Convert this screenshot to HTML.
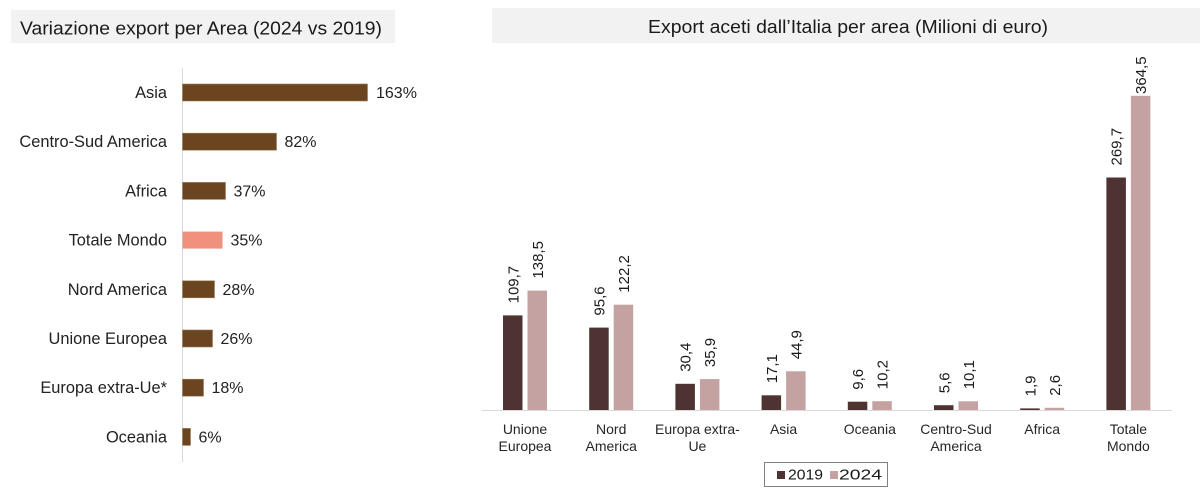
<!DOCTYPE html>
<html>
<head>
<meta charset="utf-8">
<style>
  html,body{margin:0;padding:0;background:#fff;}
  svg{display:block;}
  text{font-family:"Liberation Sans", Arial, sans-serif;}
</style>
</head>
<body>
<svg width="1200" height="491" viewBox="0 0 1200 491" xmlns="http://www.w3.org/2000/svg">
  <rect x="0" y="0" width="1200" height="491" fill="#ffffff"/>

  <!-- LEFT CHART -->
  <rect x="11" y="10" width="384" height="33" fill="#F2F2F2"/>
  <text x="20" y="34.5" font-size="18" fill="#1a1a1a" textLength="362" lengthAdjust="spacingAndGlyphs">Variazione export per Area (2024 vs 2019)</text>

  <line x1="182.5" y1="68" x2="182.5" y2="462" stroke="#D9D9D9" stroke-width="1"/>

  <g fill="#6B4520" stroke="#9C7A58" stroke-width="0.6">
    <rect x="182.5" y="84" width="185" height="17"/>
    <rect x="182.5" y="133.2" width="94" height="17"/>
    <rect x="182.5" y="182.4" width="43" height="17"/>
    <rect x="182.5" y="280.8" width="32" height="17"/>
    <rect x="182.5" y="330" width="30" height="17"/>
    <rect x="182.5" y="379.2" width="21" height="17"/>
    <rect x="182.5" y="428.4" width="8" height="17"/>
  </g>
  <rect x="182.5" y="231.6" width="40" height="17" fill="#F0917D"/>

  <g font-size="16.4" fill="#222" text-anchor="end">
    <text x="167" y="98">Asia</text>
    <text x="167" y="147.2">Centro-Sud America</text>
    <text x="167" y="196.4">Africa</text>
    <text x="167" y="245.6">Totale Mondo</text>
    <text x="167" y="294.8">Nord America</text>
    <text x="167" y="344">Unione Europea</text>
    <text x="167" y="393.2">Europa extra-Ue*</text>
    <text x="167" y="442.4">Oceania</text>
  </g>
  <g font-size="16" fill="#222">
    <text x="376" y="98">163%</text>
    <text x="284.5" y="147.2">82%</text>
    <text x="233.5" y="196.4">37%</text>
    <text x="230.5" y="245.6">35%</text>
    <text x="222.5" y="294.8">28%</text>
    <text x="220.5" y="344">26%</text>
    <text x="211.5" y="393.2">18%</text>
    <text x="198.5" y="442.4">6%</text>
  </g>

  <!-- RIGHT CHART -->
  <rect x="492" y="8" width="708" height="35" fill="#F2F2F2"/>
  <text x="848" y="33" font-size="18" fill="#1a1a1a" text-anchor="middle" textLength="400" lengthAdjust="spacingAndGlyphs">Export aceti dall’Italia per area (Milioni di euro)</text>

  <!-- bars 2019 -->
  <g fill="#4F3333">
    <rect x="503" y="315.4" width="19.5" height="94.6"/>
    <rect x="589.2" y="327.6" width="19.5" height="82.4"/>
    <rect x="675.4" y="383.8" width="19.5" height="26.2"/>
    <rect x="761.6" y="395.3" width="19.5" height="14.7"/>
    <rect x="847.8" y="401.7" width="19.5" height="8.3"/>
    <rect x="934" y="405.2" width="19.5" height="4.8"/>
    <rect x="1020.2" y="408.4" width="19.5" height="1.6"/>
    <rect x="1106.4" y="177.5" width="19.5" height="232.5"/>
  </g>
  <!-- bars 2024 -->
  <g fill="#C4A2A2">
    <rect x="527.5" y="290.6" width="19.5" height="119.4"/>
    <rect x="613.7" y="304.7" width="19.5" height="105.3"/>
    <rect x="699.9" y="379.1" width="19.5" height="30.9"/>
    <rect x="786.1" y="371.3" width="19.5" height="38.7"/>
    <rect x="872.3" y="401.2" width="19.5" height="8.8"/>
    <rect x="958.5" y="401.3" width="19.5" height="8.7"/>
    <rect x="1044.7" y="407.8" width="19.5" height="2.2"/>
    <rect x="1130.9" y="95.8" width="19.5" height="314.2"/>
  </g>

  <line x1="482" y1="410.5" x2="1172" y2="410.5" stroke="#D9D9D9" stroke-width="1"/>

  <!-- rotated value labels -->
  <g font-size="15" fill="#1a1a1a">
    <text transform="translate(518.3,303.4) rotate(-90)">109,7</text>
    <text transform="translate(542.8,278.6) rotate(-90)">138,5</text>
    <text transform="translate(604.5,315.6) rotate(-90)">95,6</text>
    <text transform="translate(629,292.7) rotate(-90)">122,2</text>
    <text transform="translate(690.7,371.8) rotate(-90)">30,4</text>
    <text transform="translate(715.2,367.1) rotate(-90)">35,9</text>
    <text transform="translate(776.9,383.3) rotate(-90)">17,1</text>
    <text transform="translate(801.4,359.3) rotate(-90)">44,9</text>
    <text transform="translate(863.1,389.7) rotate(-90)">9,6</text>
    <text transform="translate(887.6,389.2) rotate(-90)">10,2</text>
    <text transform="translate(949.3,393.2) rotate(-90)">5,6</text>
    <text transform="translate(973.8,389.3) rotate(-90)">10,1</text>
    <text transform="translate(1035.5,396.4) rotate(-90)">1,9</text>
    <text transform="translate(1060,395.8) rotate(-90)">2,6</text>
    <text transform="translate(1121.7,165.5) rotate(-90)">269,7</text>
    <text transform="translate(1146.2,94) rotate(-90)">364,5</text>
  </g>

  <!-- category labels -->
  <g font-size="14" fill="#262626" text-anchor="middle">
    <text x="525" y="434">Unione</text>
    <text x="525" y="451">Europea</text>
    <text x="611.2" y="434">Nord</text>
    <text x="611.2" y="451">America</text>
    <text x="697.4" y="434">Europa extra-</text>
    <text x="697.4" y="451">Ue</text>
    <text x="783.6" y="434">Asia</text>
    <text x="869.8" y="434">Oceania</text>
    <text x="956" y="434">Centro-Sud</text>
    <text x="956" y="451">America</text>
    <text x="1042.2" y="434">Africa</text>
    <text x="1128.4" y="434">Totale</text>
    <text x="1128.4" y="451">Mondo</text>
  </g>

  <!-- legend -->
  <rect x="764.5" y="462.5" width="123" height="24" fill="#ffffff" stroke="#808080" stroke-width="1"/>
  <rect x="777" y="471" width="8" height="8" fill="#4F3333"/>
  <text x="788" y="479.5" font-size="15" fill="#1a1a1a" textLength="35" lengthAdjust="spacingAndGlyphs">2019</text>
  <rect x="830" y="471" width="8" height="8" fill="#C4A2A2"/>
  <text x="839" y="479.5" font-size="15" fill="#1a1a1a" textLength="43" lengthAdjust="spacingAndGlyphs">2024</text>
</svg>
</body>
</html>
